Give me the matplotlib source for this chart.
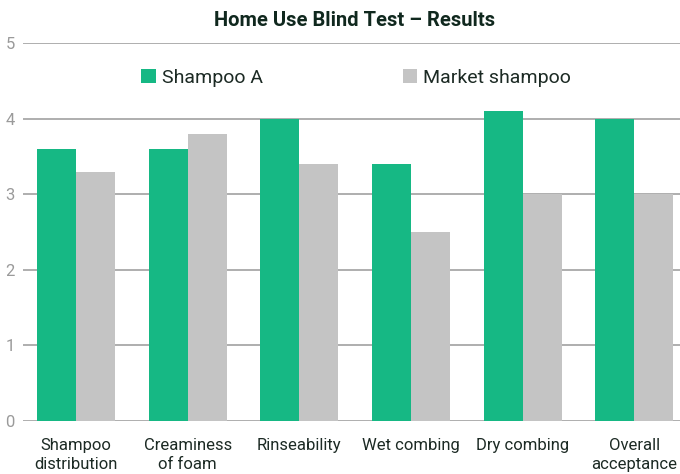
import numpy as np
import matplotlib
matplotlib.use("Agg")
import matplotlib.pyplot as plt

categories = ["Shampoo\ndistribution", "Creaminess\nof foam", "Rinseability",
              "Wet combing", "Dry combing", "Overall\nacceptance"]
shampoo_a = [3.6, 3.6, 4.0, 3.4, 4.1, 4.0]
market = [3.3, 3.8, 3.4, 2.5, 3.0, 3.0]
yticks = [0, 1, 2, 3, 4, 5]

plt.rcParams["font.family"] = ["Roboto", "DejaVu Sans"]

fig = plt.figure(figsize=(6.8, 4.74), dpi=100)
ax = fig.add_axes([23 / 680, 1 - 421 / 474, 1 - 23 / 680, (421 - 43) / 474])

x = np.arange(len(categories))
w = 0.35
ax.bar(x - w / 2, shampoo_a, w, color="#16b884", label="Shampoo A", zorder=2)
ax.bar(x + w / 2, market, w, color="#c4c4c4", label="Market shampoo", zorder=2)

ax.set_ylim(0, 5)
ax.set_xlim(-0.475, 5.41)
ax.set_yticks(yticks)
ax.yaxis.grid(True, color="#a8a8a8", linewidth=1.3, zorder=0)
ax.set_axisbelow(True)
for s in ax.spines.values():
    s.set_visible(False)
ax.tick_params(axis="y", length=0, pad=6, labelsize=12, labelcolor="#9a9a9a")
ax.tick_params(axis="x", length=0, pad=12, labelsize=12, labelcolor="#1c2a24")
ax.set_xticks(x)
ax.set_xticklabels(categories, linespacing=1.35)

fig.text(0.522, 1 - 20 / 474, "Home Use Blind Test \u2013 Results", ha="center", va="center",
         fontsize=14.5, fontweight="bold", color="#10281e")

fig.legend(loc="center", bbox_to_anchor=(0.524, 1 - 78 / 474), ncol=2, frameon=False,
           fontsize=14, handlelength=0.75, handleheight=0.75, handletextpad=0.3,
           columnspacing=7.2, labelcolor="#1c2a24")

fig.savefig("out.png", dpi=100)
